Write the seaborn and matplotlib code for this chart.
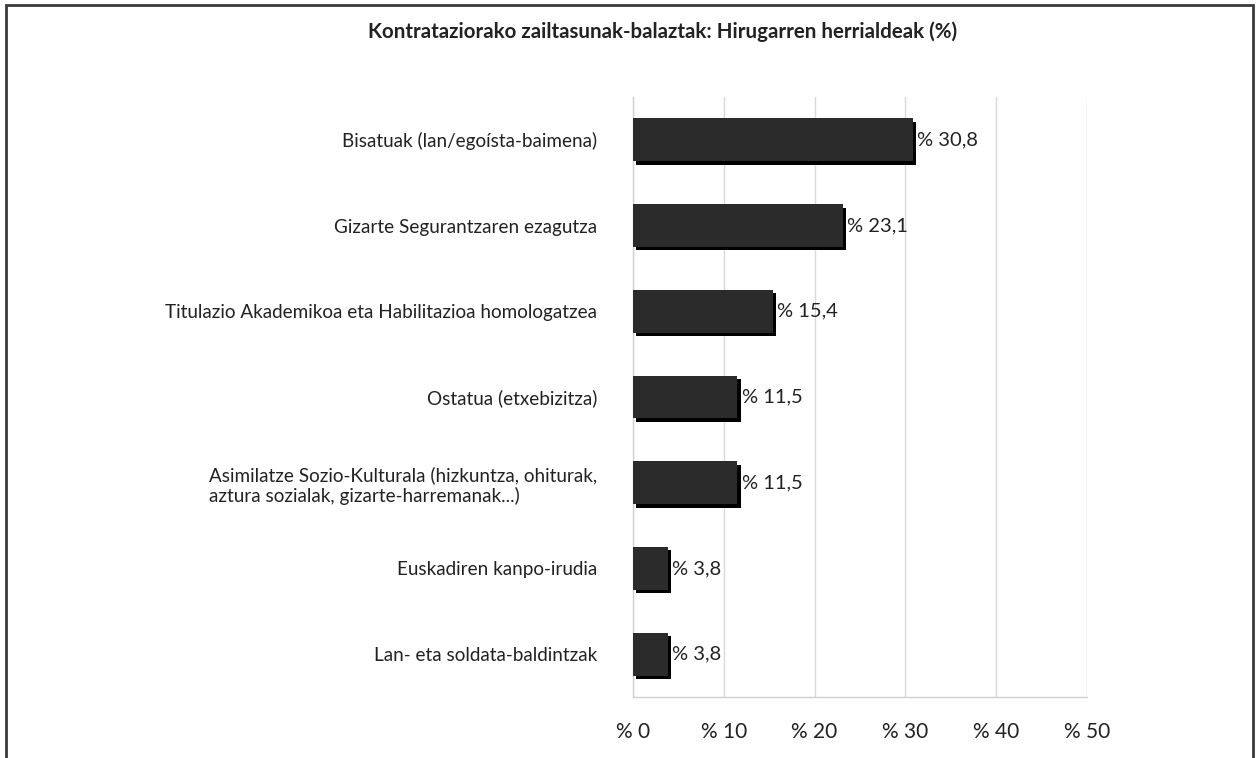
import numpy as np
import pandas as pd
import matplotlib
matplotlib.use("Agg")
import matplotlib.pyplot as plt
import matplotlib.patheffects as pe
from matplotlib.patches import Rectangle
import seaborn as sns

sns.set_style("white")
plt.rcParams['font.family'] = ['Lato', 'DejaVu Sans']

categories = [
    "Bisatuak (lan/egoísta-baimena)",
    "Gizarte Segurantzaren ezagutza",
    "Titulazio Akademikoa eta Habilitazioa homologatzea",
    "Ostatua (etxebizitza)",
    "Asimilatze Sozio-Kulturala (hizkuntza, ohiturak,\naztura sozialak, gizarte-harremanak...)",
    "Euskadiren kanpo-irudia",
    "Lan- eta soldata-baldintzak",
]
values = [30.8, 23.1, 15.4, 11.5, 11.5, 3.8, 3.8]
xticks = [0, 10, 20, 30, 40, 50]
title = "Kontrataziorako zailtasunak-balaztak: Hirugarren herrialdeak (%)"

df = pd.DataFrame({"cat": categories, "val": values})

fig = plt.figure(figsize=(12.59, 7.58), dpi=100)
ax = fig.add_axes([0.5028, 0.0805, 0.3606, 0.7916])

sns.barplot(data=df, x="val", y="cat", orient="h", color="#2b2b2b",
            width=0.5, saturation=1, linewidth=0, ax=ax, zorder=3)
for p in ax.patches:
    p.set_linewidth(0)
    p.set_path_effects([pe.SimplePatchShadow(offset=(2.5, -2.5), shadow_rgbFace="black", alpha=1),
                        pe.Normal()])

labels = [("% " + f"{v:.1f}").replace(".", ",") for v in values]
ax.bar_label(ax.containers[0], labels=labels, padding=3, fontsize=14.5, color="#222222")

ax.set_xlim(0, 50)
ax.set_ylim(len(categories) - 0.5, -0.5)
ax.set_xticks(xticks)
ax.set_xticklabels(["% " + str(t) for t in xticks], fontsize=15, color="#222222")
ax.set_yticks(range(len(categories)))
ax.set_yticklabels(categories, fontsize=13.6, color="#222222", ma="left")
ax.set_yticks(np.arange(-0.5, len(categories), 1), minor=True)
ax.tick_params(axis="y", which="major", length=0, pad=26)
ax.tick_params(axis="y", which="minor", length=5, color="#d0d0d0", direction="out")
ax.tick_params(axis="x", length=5, color="#d0d0d0", pad=13)
ax.set_xlabel("")
ax.set_ylabel("")
ax.grid(axis="x", color="#d9d9d9", linewidth=1, zorder=0)
ax.set_axisbelow(True)
for s in ["top", "right"]:
    ax.spines[s].set_visible(False)
for s in ["left", "bottom"]:
    ax.spines[s].set_color("#d0d0d0")
    ax.spines[s].set_linewidth(1)

fig.text(0.526, 0.958, title, ha="center", va="center", fontsize=14.8,
         fontweight="bold", color="#222222")

fig.patches.append(Rectangle((6 / 1259, -0.05), 1247 / 1259, 1.05 - 5 / 758,
                             transform=fig.transFigure, fill=False,
                             edgecolor="#3a3a3a", linewidth=2))

fig.savefig("out.png", dpi=100)
